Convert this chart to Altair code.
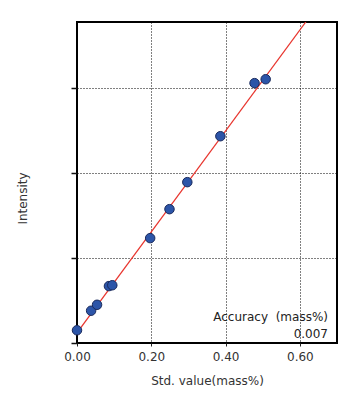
import altair as alt
import pandas as pd

std_value = [0.0, 0.038, 0.054, 0.086, 0.095, 0.197, 0.249, 0.297, 0.386, 0.478, 0.508]
intensity = [0.15, 0.38, 0.45, 0.67, 0.68, 1.235, 1.576, 1.894, 2.435, 3.06, 3.106]
fit_x = [0.0, 0.7]
fit_y = [0.12, 4.28]
x_ticks = [0.0, 0.2, 0.4, 0.6]
y_ticks = [0, 1, 2, 3]
accuracy_label = "Accuracy\u00a0\u00a0(mass%)"
accuracy_value = "0.007"

pts = pd.DataFrame({"x": std_value, "y": intensity})
fit = pd.DataFrame({"x": fit_x, "y": fit_y})

FONT = "DejaVu Sans"
xs = alt.Scale(domain=[0, 0.7], nice=False, zero=False)
ys = alt.Scale(domain=[0, 3.78], nice=False, zero=False)

xax = alt.Axis(values=x_ticks, format=".2f", title="Std. value(mass%)", grid=True,
               gridDash=[1, 2], gridColor="#000", gridWidth=1, tickColor="#222",
               tickSize=3, labelFont=FONT, labelFontSize=12, labelColor="#333",
               labelFlush=False, labelPadding=5,
               titleFont=FONT, titleFontSize=12, titleFontWeight="normal",
               titleColor="#333", titlePadding=13, domain=False)
yax = alt.Axis(values=y_ticks, labels=False, title="Intensity", grid=True,
               gridDash=[1, 2], gridColor="#000", gridWidth=1, tickColor="#111",
               tickSize=6, tickWidth=1.5, titleFont=FONT, titleFontSize=12,
               titleFontWeight="normal", titleColor="#333", titleX=-55, titleY=176,
               titleBaseline="middle", domain=False)

line = alt.Chart(fit).mark_line(color="#E8352E", strokeWidth=1.2, clip=True).encode(
    x=alt.X("x:Q", scale=xs, axis=xax),
    y=alt.Y("y:Q", scale=ys, axis=yax),
)
points = alt.Chart(pts).mark_point(filled=True, fill="#2C55A8", stroke="#1A2A5C",
                                   strokeWidth=1, size=90, opacity=1).encode(
    x=alt.X("x:Q", scale=xs),
    y=alt.Y("y:Q", scale=ys),
)
t1 = alt.Chart(pd.DataFrame({"t": [accuracy_label]})).mark_text(
    font=FONT, fontSize=12, color="#222", align="right", baseline="middle").encode(
    text="t:N", x=alt.value(251), y=alt.value(295))
t2 = alt.Chart(pd.DataFrame({"t": [accuracy_value]})).mark_text(
    font=FONT, fontSize=12, color="#222", align="right", baseline="middle").encode(
    text="t:N", x=alt.value(251), y=alt.value(312))

chart = alt.layer(line, points, t1, t2).properties(
    width=260, height=321,
    background="white",
    autosize=alt.AutoSizeParams(type="none"),
    padding={"left": 69, "top": 14, "right": 4, "bottom": 50},
).configure_view(stroke="#000", strokeWidth=2)

chart.save("out.html", embed_options={"renderer": "svg", "actions": False})
